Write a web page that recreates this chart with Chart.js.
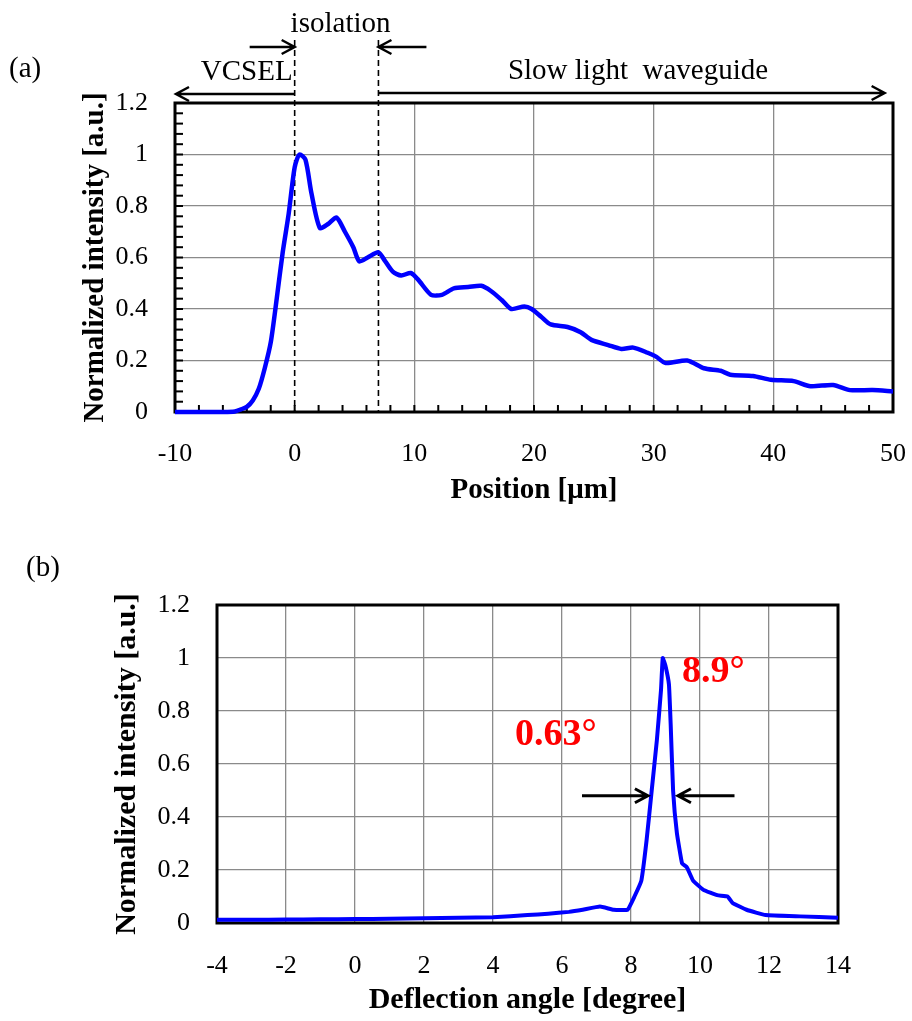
<!DOCTYPE html>
<html lang="en">
<head>
<meta charset="UTF-8">
<title>VCSEL + slow light waveguide</title>
<script src="https://cdn.jsdelivr.net/npm/chart.js@4"></script>
<style>
  body { margin: 0; background: #fff; }
  .panel { position: absolute; left: 0; }
  #panelA { top: 0; }
  #panelB { top: 530px; }
</style>
</head>
<body>

<div class="panel" id="panelA"><canvas id="chartA" width="912" height="520"></canvas></div>
<div class="panel" id="panelB"><canvas id="chartB" width="912" height="491"></canvas></div>

<script>
// (a) near field intensity along the device
const positionA = [-10, -8, -6, -5, -4.5, -4, -3.5, -3, -2.5, -2, -1.5, -1, -0.5, 0, 0.4, 0.9, 1.4, 2.1, 2.8, 3.5,
  4.2, 4.9, 5.4, 6.1, 7, 7.5, 8.2, 8.9, 9.7, 10.3, 11.4, 12.3, 13.3, 14.5, 15.6, 16.4, 17.3, 18.1, 19.2, 19.8,
  20.6, 21.4, 22.8, 23.9, 24.8, 26.2, 27.3, 28.3, 29.5, 30.2, 31, 32.8, 34.2, 35.6, 36.4, 38.3, 39.8, 41.7,
  43.1, 45, 46.4, 48.3, 50];
const intensityA = [0, 0, 0, 0.002, 0.01, 0.02, 0.045, 0.09, 0.17, 0.27, 0.44, 0.62, 0.77, 0.95, 1.0, 0.98, 0.85, 0.715, 0.73, 0.755,
  0.70, 0.64, 0.585, 0.60, 0.62, 0.59, 0.545, 0.53, 0.54, 0.515, 0.455, 0.455, 0.48, 0.485, 0.49, 0.47, 0.435, 0.40, 0.41, 0.40,
  0.37, 0.34, 0.33, 0.31, 0.28, 0.26, 0.245, 0.25, 0.23, 0.215, 0.19, 0.20, 0.17, 0.16, 0.145, 0.14, 0.125, 0.12,
  0.10, 0.105, 0.085, 0.085, 0.08];
const isolationEdges = [0, 7];          // dashed lines, µm
const waveguideEnd = 49.3;               // end of the "Slow light waveguide" arrow

// (b) far field pattern
const angleB = [-4, -3, -2, -1, 0, 1, 2, 3, 4, 5, 5.6, 6.2, 6.6, 7.1, 7.5, 7.9, 8.1, 8.3, 8.45, 8.6, 8.75, 8.87, 8.92,
  9.0, 9.1, 9.15, 9.22, 9.33, 9.48, 9.62, 9.8, 10.1, 10.5, 10.8, 10.95, 11.35, 11.9, 12.9, 14];
const intensityB = [0.012, 0.012, 0.013, 0.014, 0.015, 0.016, 0.018, 0.02, 0.022, 0.03, 0.035, 0.042, 0.05, 0.062, 0.05, 0.05, 0.10, 0.16, 0.31, 0.50, 0.69, 0.88, 1.0,
  0.97, 0.9, 0.75, 0.50, 0.34, 0.225, 0.21, 0.16, 0.125, 0.105, 0.10, 0.075, 0.05, 0.03, 0.025, 0.02];

const yTickLabels = ['0', '0.2', '0.4', '0.6', '0.8', '1', '1.2'];

const SERIF = '"Liberation Serif", "Times New Roman", serif';

function arrow(ctx, x1, y1, x2, y2) {
    // line with an open head at (x2, y2)
    const dir = Math.sign(x2 - x1);
    ctx.beginPath();
    ctx.moveTo(x1, y1); ctx.lineTo(x2, y2);
    ctx.moveTo(x2 - dir * 13, y2 - 7); ctx.lineTo(x2, y2); ctx.lineTo(x2 - dir * 13, y2 + 7);
    ctx.stroke();
}

const frameA = {
    id: 'frameA',
    beforeDatasetsDraw(chart) {
        const { ctx, chartArea: a, scales: { x, y } } = chart;
        ctx.save();
        ctx.strokeStyle = '#000';
        // dashed isolation markers
        ctx.lineWidth = 1.6;
        ctx.setLineDash([6, 4]);
        isolationEdges.forEach(v => {
            const px = x.getPixelForValue(v);
            ctx.beginPath(); ctx.moveTo(px, 40); ctx.lineTo(px, a.bottom); ctx.stroke();
        });
        ctx.setLineDash([]);
        // inner minor ticks
        ctx.lineWidth = 2;
        for (let v = -8; v < 50; v += 2) {
            const px = x.getPixelForValue(v);
            ctx.beginPath(); ctx.moveTo(px, a.bottom); ctx.lineTo(px, a.bottom - 7); ctx.stroke();
        }
        for (let i = 1; i < 30; i++) {
            const py = y.getPixelForValue(i * 0.04);
            ctx.beginPath(); ctx.moveTo(a.left, py); ctx.lineTo(a.left + 8, py); ctx.stroke();
        }
        ctx.lineWidth = 3;
        ctx.strokeRect(a.left, a.top, a.width, a.height);
        ctx.restore();
    },
    afterDraw(chart) {
        const { ctx, chartArea: a, scales: { x } } = chart;
        const x0 = x.getPixelForValue(isolationEdges[0]);
        const x7 = x.getPixelForValue(isolationEdges[1]);
        ctx.save();
        ctx.fillStyle = '#000';
        ctx.strokeStyle = '#000';
        ctx.lineWidth = 2.5;
        ctx.textBaseline = 'alphabetic';
        ctx.font = '29px ' + SERIF;
        ctx.textAlign = 'left';
        ctx.fillText('(a)', 9, 77);
        ctx.textAlign = 'center';
        ctx.fillText('isolation', (x0 + x7) / 2 + 4, 32);
        ctx.textAlign = 'right';
        ctx.fillText('VCSEL', x0 - 2, 80);
        ctx.textAlign = 'center';
        ctx.fillText('Slow light  waveguide', 638, 79);
        // arrows
        arrow(ctx, x0 - 45, 47, x0, 47);
        arrow(ctx, x7 + 48, 47, x7, 47);
        arrow(ctx, x0, a.top - 9, x.getPixelForValue(-10) + 1, a.top - 9);
        arrow(ctx, x7, a.top - 10, x.getPixelForValue(waveguideEnd), a.top - 10);
        ctx.restore();
    }
};

const frameB = {
    id: 'frameB',
    beforeDatasetsDraw(chart) {
        const { ctx, chartArea: a } = chart;
        ctx.save();
        ctx.strokeStyle = '#000';
        ctx.lineWidth = 3;
        ctx.strokeRect(a.left, a.top, a.width, a.height);
        ctx.restore();
    },
    afterDraw(chart) {
        const { ctx, scales: { x, y } } = chart;
        ctx.save();
        ctx.fillStyle = '#000';
        ctx.font = '29px ' + SERIF;
        ctx.fillText('(b)', 26, 46);
        ctx.fillStyle = '#ff0000';
        ctx.font = 'bold 38px ' + SERIF;
        ctx.fillText('8.9\u00b0', x.getPixelForValue(9.48), y.getPixelForValue(0.91));
        ctx.fillText('0.63\u00b0', x.getPixelForValue(4.64), y.getPixelForValue(0.67));
        ctx.strokeStyle = '#000';
        ctx.lineWidth = 3;
        const ya = y.getPixelForValue(0.48);
        arrow(ctx, x.getPixelForValue(6.58), ya, x.getPixelForValue(8.49), ya);
        arrow(ctx, x.getPixelForValue(11.0), ya, x.getPixelForValue(9.36), ya);
        ctx.restore();
    }
};

function axisFont(size, bold) {
    return { family: SERIF, size: size, weight: bold ? 'bold' : 'normal' };
}

// panel (a)
new Chart(document.getElementById('chartA'), {
    type: 'line',
    data: {
        datasets: [{
            data: positionA.map((p, i) => ({ x: p, y: intensityA[i] })),
            borderColor: '#0000ff',
            borderWidth: 4.5,
            pointRadius: 0,
            tension: 0.25,
            clip: false
        }]
    },
    options: {
        responsive: false,
        animation: false,
        events: [],
        layout: { padding: { top: 103, right: 19, left: 74, bottom: 0 } },
        plugins: { legend: { display: false }, tooltip: { enabled: false } },
        scales: {
            x: {
                type: 'linear', min: -10, max: 50,
                afterFit: s => { s.height = 108; },
                ticks: { stepSize: 10, padding: 3, color: '#000', font: axisFont(26), maxRotation: 0 },
                grid: {
                    drawTicks: true, tickLength: 24, tickColor: 'rgba(0,0,0,0)', lineWidth: 1.3,
                    color: c => (c.tick && c.tick.value === 0) ? 'rgba(0,0,0,0)' : '#8a8a8a'
                },
                border: { display: false },
                title: { display: true, text: 'Position [\u03bcm]', color: '#000', font: axisFont(29, true), padding: { top: 0, bottom: 12 } }
            },
            y: {
                min: 0, max: 1.2,
                afterFit: s => { s.width = 101; },
                ticks: { stepSize: 0.2, padding: 27, color: '#000', font: axisFont(26), callback: (v, i) => yTickLabels[i] },
                grid: { drawTicks: false, lineWidth: 1.3, color: '#8a8a8a' },
                border: { display: false },
                title: { display: true, text: 'Normalized intensity [a.u.]', color: '#000', font: axisFont(29, true), padding: { top: 4, bottom: 0 } }
            }
        }
    },
    plugins: [frameA]
});

// panel (b)
new Chart(document.getElementById('chartB'), {
    type: 'line',
    data: {
        datasets: [{
            data: angleB.map((a, i) => ({ x: a, y: intensityB[i] })),
            borderColor: '#0000ff',
            borderWidth: 4,
            pointRadius: 0,
            tension: 0.1,
            clip: false
        }]
    },
    options: {
        responsive: false,
        animation: false,
        events: [],
        layout: { padding: { top: 75, right: 74, left: 106, bottom: 0 } },
        plugins: { legend: { display: false }, tooltip: { enabled: false } },
        scales: {
            x: {
                type: 'linear', min: -4, max: 14,
                afterFit: s => { s.height = 98; },
                ticks: { stepSize: 2, padding: 4, color: '#000', font: axisFont(26), maxRotation: 0 },
                grid: { drawTicks: true, tickLength: 24, tickColor: 'rgba(0,0,0,0)', lineWidth: 1.3, color: '#8a8a8a' },
                border: { display: false },
                title: { display: true, text: 'Deflection angle [degree]', color: '#000', font: axisFont(30, true), padding: { top: 0, bottom: 3 } }
            },
            y: {
                min: 0, max: 1.2,
                afterFit: s => { s.width = 111; },
                ticks: { stepSize: 0.2, padding: 27, color: '#000', font: axisFont(26), callback: (v, i) => yTickLabels[i] },
                grid: { drawTicks: false, lineWidth: 1.3, color: '#8a8a8a' },
                border: { display: false },
                title: { display: true, text: 'Normalized intensity [a.u.]', color: '#000', font: axisFont(30, true), padding: { top: 3, bottom: 0 } }
            }
        }
    },
    plugins: [frameB]
});
</script>
</body>
</html>
